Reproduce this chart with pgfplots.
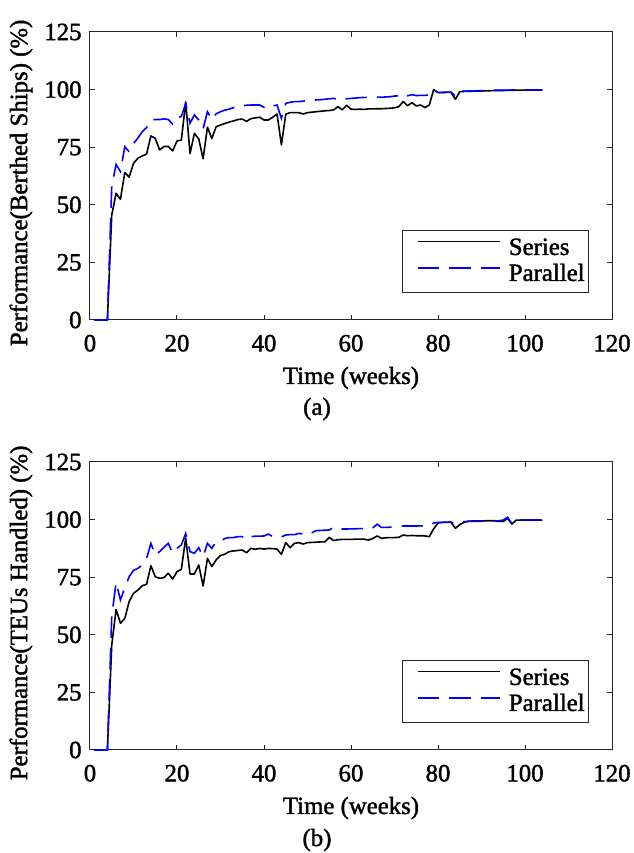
\documentclass[border=0pt]{standalone}
\usepackage{fontspec}
\setmainfont{Liberation Serif}[FakeBold=1.5]
\usepackage{pgfplots}
\usepackage{pgfplotstable}
\pgfplotsset{compat=1.18}

% weekly performance, columns: week, (a) series, (a) parallel, (b) series, (b) parallel
\pgfplotstableread{
w   sa    pa    sb    pb
1   0     0     0     0
2   0     0     0     0
3   0     0     0     0
4   0     0     0     0
5   45.6  58    45.6  58
6   55    67.5  61    72.8
7   52.4  64.4  55    65.1
8   64    75.2  57.1  70.5
9   62    73    64.4  75.2
10  68    76.5  68    78
11  70.2  79    69.4  78.8
12  71.2  81.7  71.3  80.3
13  72    83.5  71.9  83
14  79.9  86.8  80    89.7
15  78.8  87    75.2  84.6
16  73.8  87    74.5  86.1
17  75.3  87.3  74.8  88
18  75.3  87    76.7  89.7
19  73.4  85    74.2  85.4
20  77.7  87.8  77.4  87.5
21  78.1  88.3  78.4  89
22  94.5  94    92    94
23  72.3  85.4  76.4  86.1
24  81    89    76.4  85.4
25  78.6  86.8  80.3  87.8
26  70    83    71.2  83.9
27  83.7  90.4  83.2  89.7
28  78.8  87    79.6  87.5
29  83.9  89.5  82.5  90.4
30  84.6  90.4  84.4  90.6
31  85.3  91.1  85    91.8
32  85.9  91.5  86.1  92.2
33  86.4  92.2  86.4  92.2
34  87    93    86.6  92.6
35  87.2  93    86.8  92.6
36  86.2  93.2  85.6  91.3
37  87.4  93.3  87.5  92.6
38  87.7  93.3  87.1  92.8
39  88    93.3  87.5  92.8
40  86.8  92.3  87.2  92.9
41  86.8  91.6  87.5  93.7
42  88    92.9  87.4  92.6
43  89.4  93.3  87.2  93
44  76    87.5  84.9  92.5
45  89.3  94    90    93.3
46  90    94.5  87.8  93.5
47  90    94.8  89.7  93.5
48  90    94.8  90    94
49  89.4  95    89.4  93.8
50  90    95.2  90    94.8
51  90.2  95.4  90.1  94.3
52  90.4  95.5  90.2  95.2
53  90.6  95.6  90.3  95.3
54  90.8  95.8  90.3  95.4
55  90.9  96    92.3  95.5
56  91.2  96.2  90.9  96.6
57  92.6  95.8  91.3  95.8
58  91.2  96.5  91.4  95.9
59  93.2  96    91.4  95.9
60  91.5  96.2  91.4  96
61  91.4  96.3  91.5  96
62  91.5  96.5  91.5  96.1
63  91.4  96.6  91.5  96.1
64  91.6  96.6  91.1  96.3
65  91.6  96.7  91.8  96.4
66  91.7  96.7  92.9  98
67  91.7  96.7  91.9  96.6
68  91.8  96.8  92.1  96.6
69  91.9  96.9  92.2  96.7
70  92.1  97.2  92.2  96.8
71  92.6  97.3  92.3  97
72  94.8  98.3  93.3  97.2
73  93    97.3  93    97.2
74  94.3  97.8  93.1  97.2
75  92.9  97.4  93    97.2
76  93.3  97.5  93    97.3
77  92.2  97.5  92.9  97.3
78  93.3  97.7  92.6  97.4
79  100   100   96    98.5
80  98.7  98.8  98.5  98.8
81  98.7  98.8  98.8  98.8
82  98.8  98.9  98.8  98.9
83  98.8  98.9  98.9  98.9
84  95.8  97.2  96.2  98.3
85  99.1  99.2  97.8  98.9
86  99.2  99.3  98.8  99.1
87  99.3  99.4  99.3  99.2
88  99.3  99.4  99.4  99.2
89  99.4  99.5  99.4  99.3
90  99.4  99.5  99.4  99.3
91  99.5  99.6  99.5  99.4
92  99.5  99.6  99.5  99.4
93  99.6  99.7  99.5  99.4
94  99.6  99.7  99.3  99.5
95  99.6  99.7  99.2  99.8
96  99.7  99.8  100.5 101
97  99.7  99.8  98.1  98.2
98  99.8  99.9  99.8  99.9
99  99.8  99.9  99.8  99.9
100 99.8  99.9  99.8  99.9
101 99.8  99.9  99.8  99.9
102 99.8  99.9  99.8  99.9
103 99.8  99.9  99.8  99.9
104 99.8  99.9  99.8  99.9
}\perfdata

\pgfplotsset{
  perfaxis/.style={
    anchor=south west, scale only axis,
    width=391.5pt, height=216pt,
    xmin=0, xmax=120, ymin=0, ymax=125,
    xtick={0,20,...,120}, ytick={0,25,...,125},
    tick align=inside, tick pos=both,
    major tick length=4pt,
    clip=false,
    axis line style={black!85, line width=0.75pt},
    every tick/.style={black!85, line width=0.75pt},
    font=\fontsize{18.6}{22}\selectfont,
    /pgf/number format/assume math mode=true,
    yticklabel style={xshift=-2.8pt},
    xticklabel style={yshift=-7.6pt},
    xlabel={Time (weeks)},
    xlabel style={at={(rel axis cs:0.5,-0.2014)}, anchor=center},
    ylabel style={at={(rel axis cs:-0.1322,0.476)}, anchor=center},
    legend style={at={(rel axis cs:1,0)}, anchor=south east,
      xshift=-17.25pt, yshift=20.25pt,
      draw=black!85, line width=0.6pt,
      inner xsep=3pt, inner ysep=3.75pt,
      column sep=6pt, row sep=0pt,
      nodes={inner sep=0pt, text height=14.5pt, text depth=5pt},
      font=\fontsize{18.6}{22}\selectfont},
    legend cell align=left,
  },
  seriesline/.style={black, line width=1.2pt, line join=round,
    legend image code/.code={
      \path (0pt,0pt);
      \draw[draw=black, line width=1.1pt] (8.25pt,5.25pt) -- (69.75pt,5.25pt);
    }},
  parline/.style={blue, line width=1.2pt, dash pattern=on 16pt off 7.5pt,
    legend image code/.code={
      \path (0pt,0pt);
      \draw[draw=blue, line width=1.4pt, dash pattern=on 16pt off 7.5pt]
        (8.25pt,5.25pt) -- (69.75pt,5.25pt);
    }},
}

\begin{document}
\begin{tikzpicture}
  \begin{axis}[perfaxis, at={(67.5pt,399.75pt)},
      ylabel={Performance(Berthed Ships) (\%)}]
    \addplot[seriesline] table[x=w, y=sa] {\perfdata};
    \addlegendentry{Series}
    \addplot[parline] table[x=w, y=pa] {\perfdata};
    \addlegendentry{Parallel}
  \end{axis}
  \begin{axis}[perfaxis, at={(67.5pt,77.25pt)},
      ylabel={Performance(TEUs Handled) (\%)}]
    \addplot[seriesline] table[x=w, y=sb] {\perfdata};
    \addlegendentry{Series}
    \addplot[parline] table[x=w, y=pb] {\perfdata};
    \addlegendentry{Parallel}
  \end{axis}
  \node[font=\fontsize{18.6}{22}\selectfont] at (237.75pt,333pt) {(a)};
  \node[font=\fontsize{18.6}{22}\selectfont] at (237.75pt,9.75pt) {(b)};
  \pgfresetboundingbox
  \useasboundingbox (0pt,0pt) rectangle (475.5pt,639.75pt);
\end{tikzpicture}
\end{document}
